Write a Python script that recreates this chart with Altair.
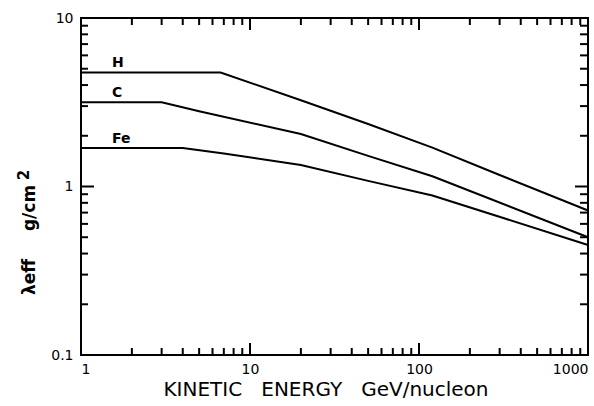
import altair as alt
import pandas as pd

# ---- data ----
series_names = ["H", "C", "Fe"]
energy_H = [1, 6.7, 20, 50, 120, 300, 1000]
lam_H = [4.75, 4.75, 3.25, 2.35, 1.70, 1.17, 0.72]
energy_C = [1, 3.0, 5.0, 20, 50, 120, 1000]
lam_C = [3.16, 3.16, 2.80, 2.05, 1.52, 1.15, 0.50]
energy_Fe = [1, 4.0, 7.0, 20, 50, 120, 1000]
lam_Fe = [1.69, 1.69, 1.57, 1.34, 1.08, 0.885, 0.45]

x_tick_labels = [1, 10, 100, 1000]
y_tick_labels = [0.1, 1, 10]
x_minor = [m * 10 ** k for k in range(0, 3) for m in range(2, 10)]
x_major = [10, 100]
y_minor = [m * 10.0 ** k for k in (-1, 0) for m in range(2, 10)]
y_major = [1.0]

rows = []
for name, xs, ys in [("H", energy_H, lam_H), ("C", energy_C, lam_C), ("Fe", energy_Fe, lam_Fe)]:
    for i, (xv, yv) in enumerate(zip(xs, ys)):
        rows.append({"series": name, "order": i, "energy": xv, "lam": yv})
df = pd.DataFrame(rows)

labels_df = pd.DataFrame({"series": series_names,
                          "lam": [lam_H[0], lam_C[0], lam_Fe[0]]})

W, H = 507, 337
FONT = "DejaVu Sans"
X_LO, X_HI, Y_LO, Y_HI = 1, 1000, 0.1, 10
px_dec_x = W / 3.0      # pixels per decade
px_dec_y = H / 2.0

# inward tick marks of the frame, built from the tick values (lengths in pixels)
tick_rows = []
def add_tick(tid, pts):
    for j, (e, l) in enumerate(pts):
        tick_rows.append({"tid": tid, "order": j, "energy": e, "lam": l})

n = 0
for vals, ln in [(x_minor, 7), (x_major, 12)]:
    for v in vals:
        k = 10 ** (ln / px_dec_y)
        add_tick(f"b{n}", [(v, Y_LO), (v, Y_LO * k)])
        add_tick(f"t{n}", [(v, Y_HI), (v, Y_HI / k)])
        n += 1
for vals, ln_l, ln_r in [(y_minor, 7, 8), (y_major, 13, 13)]:
    for v in vals:
        add_tick(f"l{n}", [(X_LO, v), (X_LO * 10 ** (ln_l / px_dec_x), v)])
        add_tick(f"r{n}", [(X_HI, v), (X_HI / 10 ** (ln_r / px_dec_x), v)])
        n += 1
ticks_df = pd.DataFrame(tick_rows)

x_scale = alt.Scale(type="log", domain=[X_LO, X_HI], nice=False)
y_scale = alt.Scale(type="log", domain=[Y_LO, Y_HI], nice=False)
x_axis = alt.Axis(values=x_tick_labels, format="d", ticks=False, domain=False, grid=False,
                  labelFont=FONT, labelFontSize=14, labelColor="black", labelPadding=7,
                  labelFlush=True, title=None)
y_axis = alt.Axis(values=y_tick_labels, format="~g", ticks=False, domain=False, grid=False,
                  labelFont=FONT, labelFontSize=14, labelColor="black", labelPadding=8,
                  title=None)

X = lambda: alt.X("energy:Q", scale=x_scale, axis=x_axis)
Y = lambda: alt.Y("lam:Q", scale=y_scale, axis=y_axis)

lines = alt.Chart(df).mark_line(color="black", strokeWidth=2).encode(
    x=X(), y=Y(), detail="series:N", order="order:Q")

ticks = alt.Chart(ticks_df).mark_line(color="black", strokeWidth=2).encode(
    x=X(), y=Y(), detail="tid:N", order="order:Q")

labels = alt.Chart(labels_df).mark_text(
    align="left", baseline="middle", dy=-9, fontSize=14, fontWeight="bold", font=FONT, color="black"
).encode(x=alt.value(31), y=Y(), text="series:N")

sp = "\u00a0\u00a0\u00a0"
x_title = alt.Chart(pd.DataFrame({"t": ["KINETIC" + sp + "ENERGY" + sp + "GeV/nucleon"]})).mark_text(
    align="center", baseline="middle", fontSize=20, font=FONT, color="black"
).encode(x=alt.value(245), y=alt.value(372), text="t:N")


def ytext(s, px, py, fs):
    return alt.Chart(pd.DataFrame({"t": [s]})).mark_text(
        align="center", baseline="middle", angle=270, font=FONT, fontWeight="bold",
        fontSize=fs, color="black"
    ).encode(x=alt.value(px), y=alt.value(py), text="t:N")


y_title = [ytext("λeff", -51, 259, 17), ytext("g/cm", -51, 190, 17), ytext("2", -57, 157, 15)]

chart = alt.layer(lines, ticks, labels, x_title, *y_title).properties(
    width=W, height=H,
    padding={"left": 81, "top": 18, "right": 6, "bottom": 51},
    autosize=alt.AutoSizeParams(type="none"),
    background="white",
).configure_view(stroke="black", strokeWidth=2)

chart.save("out.html", embed_options={"renderer": "svg", "actions": False})
